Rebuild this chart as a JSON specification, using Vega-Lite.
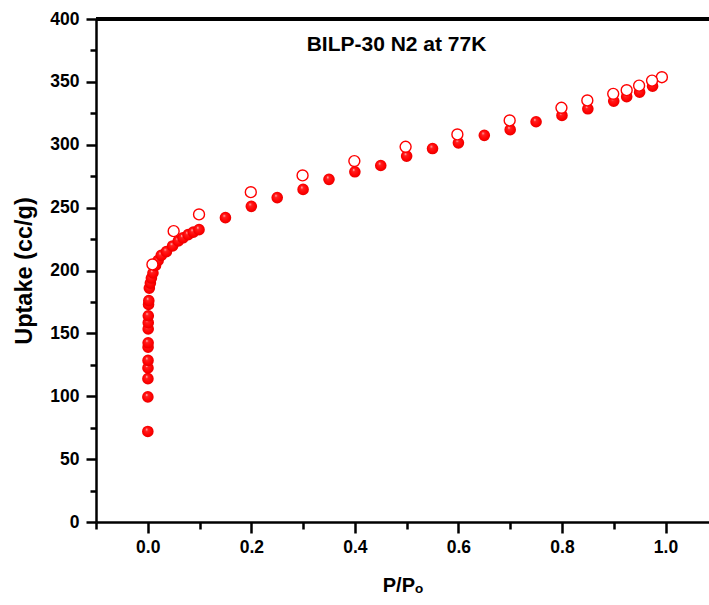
{
  "$schema": "https://vega.github.io/schema/vega-lite/v6.json",
  "autosize": "none",
  "width": 613,
  "height": 503,
  "padding": {"left": 96, "top": 19, "right": 0, "bottom": 83},
  "background": "white",
  "config": {
    "view": {"stroke": null},
    "axis": {
      "grid": false,
      "domainColor": "black",
      "domainWidth": 2.5,
      "tickColor": "black",
      "tickWidth": 2.5,
      "labelFont": "Liberation Sans",
      "labelFontSize": 17.5,
      "labelFontWeight": "bold",
      "labelColor": "black",
      "titleFont": "Liberation Sans",
      "titleFontWeight": "bold",
      "titleColor": "black"
    }
  },
  "data": {
    "values": [
      {"p": 0.0001, "uptake": 72, "branch": "ads"},
      {"p": 0.0002, "uptake": 99.5, "branch": "ads"},
      {"p": 0.0003, "uptake": 114, "branch": "ads"},
      {"p": 0.0004, "uptake": 122.5, "branch": "ads"},
      {"p": 0.0005, "uptake": 128.5, "branch": "ads"},
      {"p": 0.0006, "uptake": 139, "branch": "ads"},
      {"p": 0.0007, "uptake": 142.5, "branch": "ads"},
      {"p": 0.0008, "uptake": 153.5, "branch": "ads"},
      {"p": 0.0009, "uptake": 158.5, "branch": "ads"},
      {"p": 0.001, "uptake": 164, "branch": "ads"},
      {"p": 0.0015, "uptake": 173, "branch": "ads"},
      {"p": 0.002, "uptake": 176, "branch": "ads"},
      {"p": 0.003, "uptake": 186, "branch": "ads"},
      {"p": 0.005, "uptake": 190, "branch": "ads"},
      {"p": 0.007, "uptake": 194, "branch": "ads"},
      {"p": 0.010, "uptake": 198, "branch": "ads"},
      {"p": 0.015, "uptake": 204, "branch": "ads"},
      {"p": 0.020, "uptake": 208, "branch": "ads"},
      {"p": 0.026, "uptake": 212, "branch": "ads"},
      {"p": 0.036, "uptake": 215, "branch": "ads"},
      {"p": 0.048, "uptake": 219.5, "branch": "ads"},
      {"p": 0.059, "uptake": 223.5, "branch": "ads"},
      {"p": 0.068, "uptake": 226, "branch": "ads"},
      {"p": 0.078, "uptake": 228.5, "branch": "ads"},
      {"p": 0.088, "uptake": 230.5, "branch": "ads"},
      {"p": 0.099, "uptake": 232.5, "branch": "ads"},
      {"p": 0.15, "uptake": 242, "branch": "ads"},
      {"p": 0.2, "uptake": 251, "branch": "ads"},
      {"p": 0.25, "uptake": 258, "branch": "ads"},
      {"p": 0.3, "uptake": 264.5, "branch": "ads"},
      {"p": 0.35, "uptake": 272.5, "branch": "ads"},
      {"p": 0.4, "uptake": 278.5, "branch": "ads"},
      {"p": 0.45, "uptake": 283.5, "branch": "ads"},
      {"p": 0.5, "uptake": 291, "branch": "ads"},
      {"p": 0.55, "uptake": 297, "branch": "ads"},
      {"p": 0.6, "uptake": 301.5, "branch": "ads"},
      {"p": 0.65, "uptake": 307.5, "branch": "ads"},
      {"p": 0.7, "uptake": 312, "branch": "ads"},
      {"p": 0.75, "uptake": 318.3, "branch": "ads"},
      {"p": 0.8, "uptake": 323.3, "branch": "ads"},
      {"p": 0.85, "uptake": 328.6, "branch": "ads"},
      {"p": 0.9, "uptake": 334.7, "branch": "ads"},
      {"p": 0.925, "uptake": 338.2, "branch": "ads"},
      {"p": 0.95, "uptake": 341.8, "branch": "ads"},
      {"p": 0.975, "uptake": 346.6, "branch": "ads"},
      {"p": 0.993, "uptake": 353.7, "branch": "des"},
      {"p": 0.974, "uptake": 351, "branch": "des"},
      {"p": 0.949, "uptake": 347, "branch": "des"},
      {"p": 0.925, "uptake": 343.4, "branch": "des"},
      {"p": 0.899, "uptake": 340.5, "branch": "des"},
      {"p": 0.849, "uptake": 335.2, "branch": "des"},
      {"p": 0.799, "uptake": 329.4, "branch": "des"},
      {"p": 0.699, "uptake": 319.3, "branch": "des"},
      {"p": 0.598, "uptake": 308.2, "branch": "des"},
      {"p": 0.498, "uptake": 298.4, "branch": "des"},
      {"p": 0.399, "uptake": 287, "branch": "des"},
      {"p": 0.299, "uptake": 275.6, "branch": "des"},
      {"p": 0.199, "uptake": 262.3, "branch": "des"},
      {"p": 0.099, "uptake": 244.6, "branch": "des"},
      {"p": 0.05, "uptake": 231.3, "branch": "des"},
      {"p": 0.009, "uptake": 204.8, "branch": "des"}
    ]
  },
  "resolve": {"axis": {"x": "independent", "y": "independent"}},
  "layer": [
    {
      "mark": {"type": "rule", "color": "black", "strokeWidth": 2.5},
      "encoding": {"y": {"datum": 400, "type": "quantitative", "axis": null}}
    },
    {
      "transform": [{"filter": "datum.branch === 'ads'"}],
      "mark": {
        "type": "point",
        "shape": "circle",
        "filled": true,
        "size": 135,
        "opacity": 1,
        "color": {
          "gradient": "radial",
          "x1": 0.38, "y1": 0.32, "r1": 0,
          "x2": 0.5, "y2": 0.5, "r2": 0.55,
          "stops": [
            {"offset": 0, "color": "#ffe0e0"},
            {"offset": 0.22, "color": "#ff2020"},
            {"offset": 0.7, "color": "#ff0000"},
            {"offset": 1, "color": "#e00000"}
          ]
        }
      },
      "encoding": {
        "x": {
          "field": "p",
          "type": "quantitative",
          "scale": {"domain": [-0.1, 1.084], "nice": false, "zero": false},
          "axis": {
            "orient": "bottom",
            "title": "P/Pₒ",
            "titleFontSize": 20,
            "titlePadding": 20,
            "values": [0, 0.2, 0.4, 0.6, 0.8, 1.0],
            "format": ".1f",
            "tickSize": 11,
            "labelPadding": 5,
            "labelFlush": false,
            "labelOverlap": false
          }
        },
        "y": {
          "field": "uptake",
          "type": "quantitative",
          "scale": {"domain": [0, 400], "nice": false},
          "axis": {
            "orient": "left",
            "title": "Uptake (cc/g)",
            "titleFontSize": 23.5,
            "titlePadding": 13,
            "values": [0, 50, 100, 150, 200, 250, 300, 350, 400],
            "tickSize": 10,
            "labelPadding": 7,
            "labelOverlap": false,
            "labelFlush": false
          }
        }
      }
    },
    {
      "transform": [{"filter": "datum.branch === 'des'"}],
      "mark": {
        "type": "point",
        "shape": "circle",
        "filled": false,
        "fill": "white",
        "fillOpacity": 1,
        "stroke": "#ff0000",
        "strokeWidth": 1.4,
        "size": 120,
        "opacity": 1
      },
      "encoding": {
        "x": {
          "field": "p",
          "type": "quantitative",
          "axis": {
            "orient": "bottom",
            "title": null,
            "values": [-0.1, 0.1, 0.3, 0.5, 0.7, 0.9],
            "labels": false,
            "domain": false,
            "tickSize": 7
          }
        },
        "y": {
          "field": "uptake",
          "type": "quantitative",
          "axis": {
            "orient": "left",
            "title": null,
            "values": [25, 75, 125, 175, 225, 275, 325, 375],
            "labels": false,
            "domain": false,
            "tickSize": 6
          }
        }
      }
    },
    {
      "data": {"values": [{"label": "BILP-30 N2 at 77K"}]},
      "mark": {
        "type": "text",
        "font": "Liberation Sans",
        "fontSize": 21,
        "fontWeight": "bold",
        "color": "black",
        "align": "center",
        "baseline": "alphabetic"
      },
      "encoding": {
        "x": {"datum": 0.4804, "type": "quantitative", "axis": null},
        "y": {"datum": 374.4, "type": "quantitative", "axis": null},
        "text": {"field": "label"}
      }
    }
  ]
}
